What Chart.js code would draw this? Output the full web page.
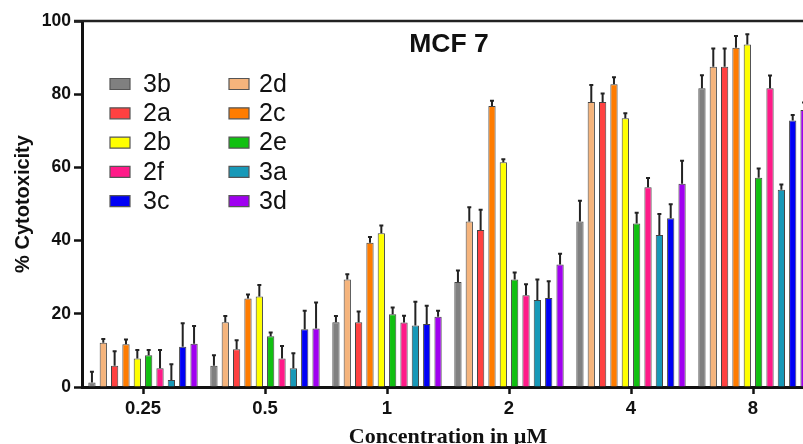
<!DOCTYPE html>
<html>
<head>
<meta charset="utf-8">
<script src="https://cdn.jsdelivr.net/npm/chart.js@4"></script>
<style>
  html, body { margin: 0; padding: 0; background: #fff; overflow: hidden; }
  #wrap { width: 803px; height: 444px; overflow: hidden; }
</style>
</head>
<body>
<div id="wrap"><canvas id="graphs" width="814" height="448"></canvas></div>
<script>
// concentrations (uM)
const concentrations = ['0.25', '0.5', '1', '2', '4', '8'];
const compounds = ['3b', '2d', '2a', '2c', '2b', '2e', '2f', '3a', '3c', '3d'];
const yTicks = [0, 20, 40, 60, 80, 100];

// mean % cytotoxicity, one row per compound
const cytotoxicity = [
  [1.2, 5.8, 17.7, 28.7, 45.2, 81.6],
  [12.1, 17.7, 29.4, 45.2, 77.9, 87.5],
  [5.8, 10.3, 17.7, 42.9, 77.9, 87.5],
  [11.7, 24.2, 39.4, 76.8, 82.7, 92.7],
  [7.8, 24.7, 42.0, 61.4, 73.4, 93.6],
  [8.7, 13.9, 19.9, 29.4, 44.7, 57.2],
  [5.1, 7.8, 17.6, 25.1, 54.6, 81.6],
  [1.9, 5.1, 16.8, 23.8, 41.5, 53.9],
  [11.0, 15.8, 17.2, 24.3, 46.1, 72.8],
  [11.8, 16.0, 19.2, 33.5, 55.5, 75.7]
];

// SD (upper error bar only)
const errors = [
  [3.0, 2.9, 1.7, 3.1, 5.7, 3.6],
  [1.0, 1.7, 1.4, 3.9, 4.6, 5.0],
  [4.0, 2.5, 2.9, 5.5, 2.3, 5.0],
  [1.3, 1.1, 1.6, 1.4, 1.9, 3.2],
  [2.3, 3.2, 2.1, 0.8, 1.4, 2.8],
  [1.4, 1.0, 1.8, 1.9, 2.9, 2.5],
  [5.0, 3.4, 1.9, 3.0, 2.5, 3.5],
  [4.3, 4.1, 6.5, 5.6, 5.8, 1.4],
  [6.4, 5.0, 5.0, 4.6, 3.8, 1.5],
  [4.9, 7.1, 1.6, 2.9, 6.3, 2.0]
];

const colors = ['#808080', '#f5b47c', '#ff4141', '#ff7c00', '#ffff00',
  '#11c011', '#ff1a88', '#1899b8', '#0000f5', '#a000f0'];

const errorBarPlugin = {
  id: 'errorBars',
  afterDatasetsDraw(chart) {
    const ctx = chart.ctx;
    const y = chart.scales.y;
    ctx.save();
    ctx.strokeStyle = '#222';
    ctx.lineWidth = 2;
    chart.data.datasets.forEach((ds, i) => {
      chart.getDatasetMeta(i).data.forEach((bar, j) => {
        const top = y.getPixelForValue(ds.data[j] + errors[i][j]);
        ctx.beginPath();
        ctx.moveTo(bar.x, bar.y);
        ctx.lineTo(bar.x, top);
        ctx.moveTo(bar.x - 2, top);
        ctx.lineTo(bar.x + 2, top);
        ctx.stroke();
      });
    });
    ctx.restore();
  }
};

const decorPlugin = {
  id: 'decor',
  afterDraw(chart) {
    const ctx = chart.ctx;
    const area = chart.chartArea;
    ctx.save();
    // top frame line
    ctx.strokeStyle = '#222';
    ctx.lineWidth = 2.5;
    ctx.beginPath();
    ctx.moveTo(area.left - 8, area.top);
    ctx.lineTo(chart.width, area.top);
    ctx.stroke();

    // title
    ctx.fillStyle = '#111';
    ctx.font = 'bold 26.5px "Liberation Sans", Arial, sans-serif';
    ctx.textAlign = 'center';
    ctx.textBaseline = 'middle';
    ctx.fillText('MCF 7', 449, 45);

    // legend, two columns
    ctx.font = '25px "Liberation Sans", Arial, sans-serif';
    ctx.textAlign = 'left';
    chart.data.datasets.forEach((ds, i) => {
      const col = i % 2;
      const row = Math.floor(i / 2);
      const bx = col === 0 ? 110 : 229;
      const cy = 84 + row * 29.3;
      ctx.fillStyle = ds.backgroundColor;
      ctx.strokeStyle = '#555';
      ctx.lineWidth = 1.2;
      ctx.beginPath();
      ctx.rect(bx, cy - 5.5, 20, 11);
      ctx.fill();
      ctx.stroke();
      ctx.fillStyle = '#111';
      ctx.fillText(ds.label, bx + (col === 0 ? 33 : 30), cy + 1);
    });
    ctx.restore();
  }
};

const config = {
  type: 'bar',
  data: {
    labels: concentrations,
    datasets: compounds.map((name, i) => ({
      label: name,
      data: cytotoxicity[i],
      backgroundColor: colors[i],
      borderColor: '#444',
      borderWidth: 1
    }))
  },
  options: {
    responsive: false,
    animation: false,
    categoryPercentage: 0.93,
    barPercentage: 0.64,
    layout: { padding: { top: 21, right: 0, bottom: 0, left: 0 } },
    plugins: {
      legend: { display: false },
      title: { display: false },
      tooltip: { enabled: false }
    },
    scales: {
      x: {
        afterFit(scale) { scale.height = 61; },
        grid: {
          offset: false,
          drawOnChartArea: false,
          drawTicks: true,
          tickLength: 7,
          tickWidth: 2.5,
          tickColor: '#111'
        },
        border: { display: true, color: '#111', width: 3 },
        ticks: {
          color: '#111',
          padding: 4,
          font: { family: '"Liberation Sans", Arial, sans-serif', size: 18.5, weight: 'bold' }
        },
        title: {
          display: true,
          text: 'Concentration in µM',
          color: '#111',
          padding: { top: 0, bottom: 0 },
          font: { family: '"Liberation Serif", "Times New Roman", serif', size: 22, weight: 'bold', lineHeight: 1 }
        }
      },
      y: {
        min: 0,
        max: 100,
        afterFit(scale) { scale.width = 82; },
        afterBuildTicks(scale) { scale.ticks = yTicks.map(v => ({ value: v })); },
        grid: {
          drawOnChartArea: false,
          drawTicks: true,
          tickLength: 8,
          tickWidth: 2.5,
          tickColor: '#111'
        },
        border: { display: true, color: '#111', width: 3 },
        ticks: {
          color: '#111',
          padding: 3,
          font: { family: '"Liberation Sans", Arial, sans-serif', size: 17.5, weight: 'bold' }
        },
        title: {
          display: true,
          text: '% Cytotoxicity',
          color: '#111',
          padding: { top: 11, bottom: 0 },
          font: { family: '"Liberation Sans", Arial, sans-serif', size: 20, weight: 'bold', lineHeight: 1.2 }
        }
      }
    }
  },
  plugins: [errorBarPlugin, decorPlugin]
};

window.onload = function() {
  const ctx = document.querySelector('#graphs').getContext('2d');
  window.cytoChart = new Chart(ctx, config);
};
</script>
</body>
</html>
